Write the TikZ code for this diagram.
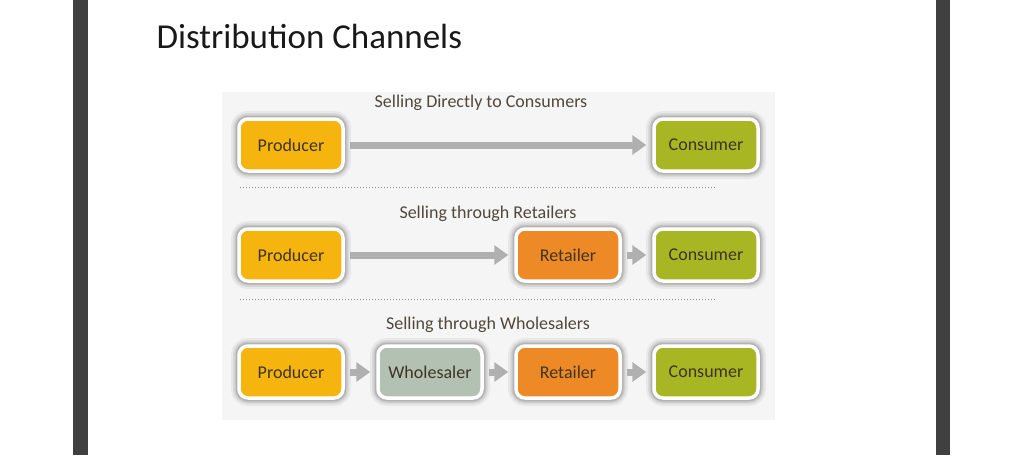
\documentclass[tikz,border=0pt]{standalone}
\usepackage{fontspec}
\setmainfont{Carlito}
\usetikzlibrary{arrows.meta}
\definecolor{prodc}{HTML}{F6B40E}
\definecolor{consc}{HTML}{A9B623}
\definecolor{retc}{HTML}{EE8A26}
\definecolor{whoc}{HTML}{B3C1B2}
\definecolor{txtc}{HTML}{3F3424}
\definecolor{barc}{HTML}{404040}
\definecolor{figbg}{HTML}{F5F5F5}
\begin{document}
\begin{tikzpicture}[x=1pt,y=-1pt,
  boxs/.style={draw=white,line width=3.5pt,rounded corners=9pt,minimum width=104pt,minimum height=52pt,
    text=txtc,font=\fontsize{18}{21}\selectfont,
    preaction={draw=black,draw opacity=0.05,line width=16pt},
    preaction={draw=black,draw opacity=0.06,line width=12pt},
    preaction={draw=black,draw opacity=0.08,line width=9pt},
    preaction={draw=black,draw opacity=0.10,line width=6.5pt}},
  prod/.style={boxs,fill=prodc},
  cons/.style={boxs,fill=consc},
  ret/.style={boxs,fill=retc},
  who/.style={boxs,fill=whoc},
  arr/.style={draw=gray!62,line width=7pt,-{Triangle[width=19pt,length=14pt]},shorten <=5pt,shorten >=6pt},
  head/.style={text=txtc!90,font=\fontsize{18}{21}\selectfont},
  sep/.style={draw=gray!90,line width=1pt,dotted}]
\useasboundingbox (0,0) rectangle (1024,455);
\fill[white] (0,0) rectangle (1024,455);
\fill[barc] (73,0) rectangle (88,455);
\fill[barc] (936,0) rectangle (950,455);
\node[anchor=base west,font=\fontsize{35}{40}\selectfont,text=black!90] (title) at (153,48) {Distribution Channels};
\fill[figbg] (222,92) rectangle (775,420);
% row 1
\node[head] (h1) at (481,103) {Selling Directly to Consumers};
\node[prod] (p1) at (291,145) {Producer};
\node[cons] (c1) at (706,145) {Consumer};
\draw[arr] (p1) -- (c1);
\draw[sep] (240,187) -- (715,187);
% row 2
\node[head] (h2) at (488,214) {Selling through Retailers};
\node[prod] (p2) at (291,255) {Producer};
\node[ret] (r2) at (568,255) {Retailer};
\node[cons] (c2) at (706,255) {Consumer};
\draw[arr] (p2) -- (r2);
\draw[arr] (r2) -- (c2);
\draw[sep] (240,299) -- (715,299);
% row 3
\node[head] (h3) at (488,325) {Selling through Wholesalers};
\node[prod] (p3) at (291,372) {Producer};
\node[who] (w3) at (430,372) {Wholesaler};
\node[ret] (r3) at (568,372) {Retailer};
\node[cons] (c3) at (706,372) {Consumer};
\draw[arr] (p3) -- (w3);
\draw[arr] (w3) -- (r3);
\draw[arr] (r3) -- (c3);
\end{tikzpicture}
\end{document}
